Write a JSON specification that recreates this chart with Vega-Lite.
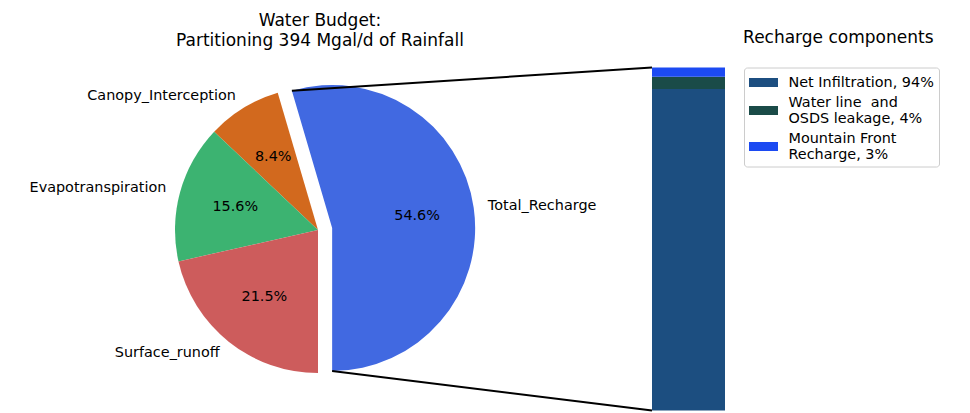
{
  "$schema": "https://vega.github.io/schema/vega-lite/v6.json",
  "padding": {"top": 11.5, "left": 0, "right": 0, "bottom": 0},
  "spacing": 0,
  "bounds": "flush",
  "resolve": {"scale": {"color": "independent"}},
  "config": {
    "view": {"stroke": null},
    "font": "DejaVu Sans",
    "title": {"fontWeight": "normal", "fontSize": 17, "color": "black"}
  },
  "hconcat": [
    {
      "width": 652,
      "height": 343,
      "title": {"text": ["Water Budget:", "Partitioning 394 Mgal/d of Rainfall"], "lineHeight": 20, "offset": 17, "dx": -6, "frame": "group"},
      "data": {"values": [
        {"category": "Canopy_Interception", "share": 0.084},
        {"category": "Evapotranspiration", "share": 0.156},
        {"category": "Surface_runoff", "share": 0.215},
        {"category": "Total_Recharge", "share": 0.546}
      ]},
      "layer": [
        {
          "mark": {"type": "arc", "outerRadius": 143},
          "encoding": {
            "theta": {"field": "share", "type": "quantitative", "stack": true, "scale": {"domain": [0, 1.001], "range": [-0.28553, 5.99766]}},
            "order": {"field": "category", "sort": "descending"},
            "x": {"datum": 0, "type": "quantitative", "scale": {"domain": [-2.2238, 2.3357], "nice": false, "zero": false}, "axis": null},
            "y": {"datum": 0, "type": "quantitative", "scale": {"domain": [-1.2622, 1.1364], "nice": false, "zero": false}, "axis": null},
            "color": {"field": "category", "type": "nominal", "scale": {"domain": ["Total_Recharge", "Canopy_Interception", "Evapotranspiration", "Surface_runoff"], "range": ["#4169e1", "#d2691e", "#3cb371", "#cd5c5c"]}, "legend": null},
            "opacity": {"condition": {"test": "datum.category === 'Total_Recharge'", "value": 0}, "value": 1}
          }
        },
        {
          "mark": {"type": "arc", "outerRadius": 143},
          "encoding": {
            "theta": {"field": "share", "type": "quantitative", "stack": true},
            "order": {"field": "category", "sort": "descending"},
            "x": {"datum": 0.09898, "type": "quantitative"},
            "y": {"datum": 0.01423, "type": "quantitative"},
            "color": {"field": "category", "type": "nominal", "legend": null},
            "opacity": {"condition": {"test": "datum.category === 'Total_Recharge'", "value": 1}, "value": 0}
          }
        },
        {
          "mark": {"type": "text", "align": "right", "baseline": "middle", "fontSize": 14.4, "color": "black"},
          "encoding": {
            "theta": {"field": "share", "type": "quantitative", "stack": true},
            "order": {"field": "category", "sort": "descending"},
            "x": {"datum": 0, "type": "quantitative"},
            "y": {"datum": 0, "type": "quantitative"},
            "radius": {"value": 157.3},
            "text": {"condition": {"test": "datum.category !== 'Total_Recharge'", "field": "category", "type": "nominal"}, "value": ""}
          }
        },
        {
          "mark": {"type": "text", "align": "left", "baseline": "middle", "fontSize": 14.4, "color": "black"},
          "encoding": {
            "theta": {"field": "share", "type": "quantitative", "stack": true},
            "order": {"field": "category", "sort": "descending"},
            "x": {"datum": 0.09898, "type": "quantitative"},
            "y": {"datum": 0.01423, "type": "quantitative"},
            "radius": {"value": 157.3},
            "text": {"condition": {"test": "datum.category === 'Total_Recharge'", "field": "category", "type": "nominal"}, "value": ""}
          }
        },
        {
          "mark": {"type": "text", "align": "center", "baseline": "middle", "fontSize": 14.4, "color": "black"},
          "encoding": {
            "theta": {"field": "share", "type": "quantitative", "stack": true},
            "order": {"field": "category", "sort": "descending"},
            "x": {"datum": 0, "type": "quantitative"},
            "y": {"datum": 0, "type": "quantitative"},
            "radius": {"value": 85.8},
            "text": {"condition": {"test": "datum.category !== 'Total_Recharge'", "field": "share", "type": "quantitative", "format": ".1%"}, "value": ""}
          }
        },
        {
          "mark": {"type": "text", "align": "center", "baseline": "middle", "fontSize": 14.4, "color": "black"},
          "encoding": {
            "theta": {"field": "share", "type": "quantitative", "stack": true},
            "order": {"field": "category", "sort": "descending"},
            "x": {"datum": 0.09898, "type": "quantitative"},
            "y": {"datum": 0.01423, "type": "quantitative"},
            "radius": {"value": 85.8},
            "text": {"condition": {"test": "datum.category === 'Total_Recharge'", "field": "share", "type": "quantitative", "format": ".1%"}, "value": ""}
          }
        },
        {
          "data": {"values": [{}]},
          "mark": {"type": "rule", "color": "black", "strokeWidth": 2},
          "encoding": {
            "x": {"datum": -0.1827, "type": "quantitative"},
            "y": {"datum": 0.9737, "type": "quantitative"},
            "x2": {"datum": 2.3357},
            "y2": {"datum": 1.1364}
          }
        },
        {
          "data": {"values": [{}]},
          "mark": {"type": "rule", "color": "black", "strokeWidth": 2},
          "encoding": {
            "x": {"datum": 0.09898, "type": "quantitative"},
            "y": {"datum": -0.98577, "type": "quantitative"},
            "x2": {"datum": 2.3357},
            "y2": {"datum": -1.2622}
          }
        }
      ]
    },
    {
      "width": 73,
      "height": 343,
      "title": {"text": "Recharge components", "anchor": "end", "frame": "bounds", "offset": 20, "dx": -6},
      "data": {"values": [
        {"component": "Net Infiltration, 94%", "share": 0.937},
        {"component": "Water line \u00a0and\n\u00a0OSDS leakage, 4%", "share": 0.036},
        {"component": "Mountain Front\n\u00a0Recharge, 3%", "share": 0.027}
      ]},
      "mark": "bar",
      "encoding": {
        "x": {"datum": "recharge", "type": "nominal", "scale": {"paddingInner": 0, "paddingOuter": 0}, "axis": null},
        "y": {"field": "share", "type": "quantitative", "stack": "zero", "scale": {"domain": [0, 1], "nice": false}, "axis": null},
        "order": {"field": "share", "sort": "descending"},
        "color": {
          "field": "component",
          "type": "nominal",
          "scale": {"domain": ["Net Infiltration, 94%", "Water line \u00a0and\n\u00a0OSDS leakage, 4%", "Mountain Front\n\u00a0Recharge, 3%"], "range": ["#1c4e80", "#1a4b48", "#1c4af2"]},
          "legend": {
            "title": null,
            "orient": "right",
            "offset": 19,
            "padding": 5,
            "strokeColor": "#cccccc",
            "cornerRadius": 3,
            "fillColor": "white",
            "labelFontSize": 14.4,
            "labelColor": "black",
            "labelLimit": 300,
            "labelOffset": 15,
            "symbolOffset": 4.5,
            "symbolType": "M-1.45,-0.45H1.45V0.45H-1.45Z",
            "symbolSize": 400,
            "symbolStrokeWidth": 0,
            "symbolOpacity": 1,
            "rowPadding": 5,
            "labelExpr": "split(datum.label, '\\n')",
            "encode": {
              "labels": {"update": {"dy": {"signal": "indexof(datum.value, '\\n') >= 0 ? -8 : 0"}}}
            }
          }
        }
      }
    }
  ]
}
